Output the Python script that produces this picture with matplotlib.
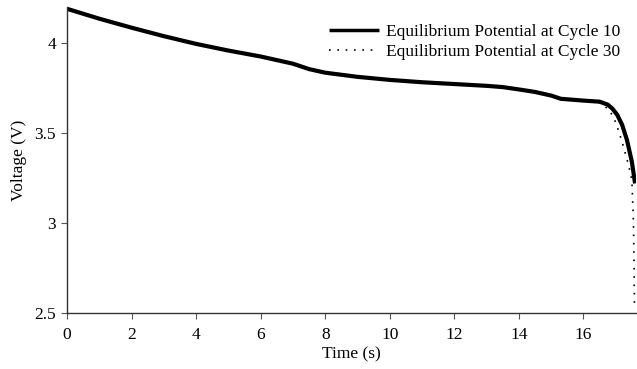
import matplotlib
matplotlib.use("Agg")
import matplotlib.pyplot as plt

# discharge curves
time_c10 = [0, 1, 2, 3, 4, 5, 6, 6.5, 7, 7.5, 8, 9, 10, 11, 12, 13, 13.5, 14,
            14.5, 15, 15.3, 16, 16.5, 16.75, 16.9, 17.05, 17.2, 17.35, 17.5, 17.6]
volt_c10 = [4.19, 4.135, 4.085, 4.038, 3.995, 3.958, 3.925, 3.905, 3.885, 3.855,
            3.835, 3.812, 3.795, 3.782, 3.772, 3.762, 3.755, 3.742, 3.728, 3.708,
            3.69, 3.68, 3.674, 3.658, 3.635, 3.6, 3.545, 3.46, 3.34, 3.22]

time_c30 = [0, 1, 2, 3, 4, 5, 6, 6.5, 7, 7.5, 8, 9, 10, 11, 12, 13, 13.5, 14,
            14.5, 15, 15.3, 16, 16.5, 16.8, 17.0, 17.2, 17.4, 17.5, 17.55, 17.57, 17.58]
volt_c30 = [4.19, 4.135, 4.085, 4.038, 3.995, 3.958, 3.925, 3.905, 3.885, 3.855,
            3.835, 3.812, 3.795, 3.782, 3.772, 3.762, 3.755, 3.742, 3.728, 3.708,
            3.69, 3.68, 3.668, 3.63, 3.56, 3.45, 3.32, 3.24, 3.0, 2.75, 2.52]

x_ticks = [0, 2, 4, 6, 8, 10, 12, 14, 16]
y_ticks = [2.5, 3, 3.5, 4]
y_tick_labels = ["2.5", "3", "3.5", "4"]

plt.rcParams["font.family"] = ["Liberation Serif", "DejaVu Serif"]
plt.rcParams["font.size"] = 12.5

fig = plt.figure(figsize=(6.37, 3.69), dpi=100)
ax = fig.add_axes([67 / 637, 1 - 313 / 369, 1 - 67 / 637 - 0.002, (313 - 7) / 369])

ax.plot(time_c10, volt_c10, color="black", lw=3, solid_capstyle="butt",
        solid_joinstyle="round", label="Equilibrium Potential at Cycle 10")
ax.plot(time_c30, volt_c30, color="black", lw=1.2, ls=(0, (1, 4)),
        label="Equilibrium Potential at Cycle 30")

ax.set_xlim(0, 17.62)
ax.set_ylim(2.5, 4.2)
ax.set_xticks(x_ticks)
ax.set_yticks(y_ticks)
ax.set_yticklabels(y_tick_labels)
ax.set_xlabel("Time (s)", labelpad=2.5)
ax.set_ylabel("Voltage (V)", labelpad=5)

for side in ["top", "right"]:
    ax.spines[side].set_visible(False)
for side in ["left", "bottom"]:
    ax.spines[side].set_color("#333333")
    ax.spines[side].set_linewidth(1)
ax.tick_params(direction="out", length=4, width=0.8, color="#555555")
ax.tick_params(axis="x", pad=6)
ax.tick_params(axis="y", pad=4)

leg = ax.legend(loc="upper right", frameon=False, handlelength=2.9, handletextpad=0.4,
                labelspacing=0.25, borderaxespad=0.0, bbox_to_anchor=(0.985, 0.968))
leg.get_lines()[0].set_linewidth(2.5)

plt.savefig("out.png", dpi=100)
plt.close()
